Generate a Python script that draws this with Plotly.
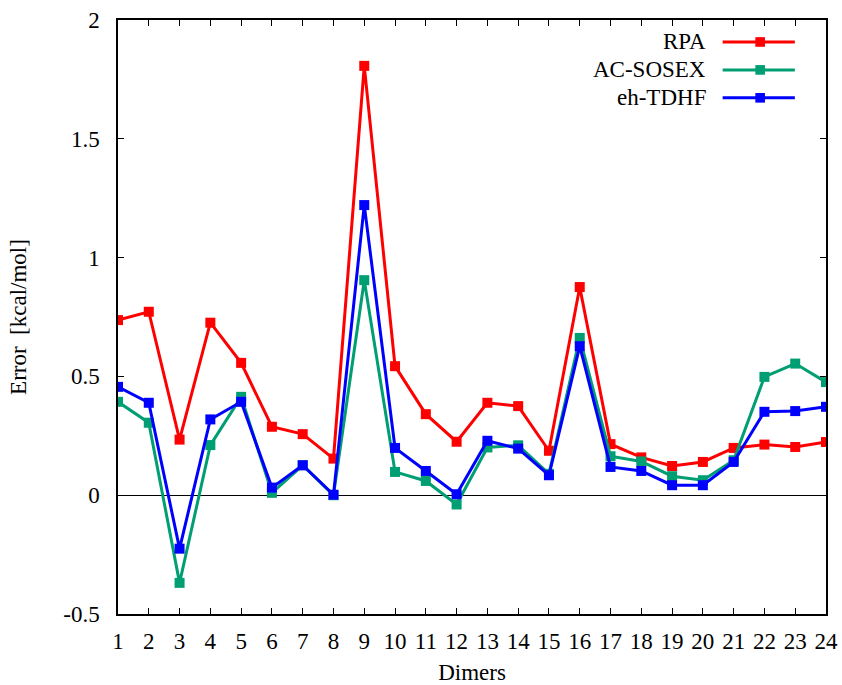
import plotly.graph_objects as go

dimers = list(range(1, 25))

rpa = [0.737, 0.772, 0.234, 0.726, 0.557, 0.288, 0.257, 0.154, 1.807, 0.543,
       0.341, 0.225, 0.389, 0.375, 0.187, 0.876, 0.215, 0.159, 0.123, 0.140,
       0.199, 0.213, 0.203, 0.224]
ac_sosex = [0.393, 0.305, -0.369, 0.211, 0.414, 0.010, 0.126, 0.000, 0.905, 0.098,
            0.060, -0.039, 0.201, 0.210, 0.090, 0.662, 0.164, 0.142, 0.080, 0.063,
            0.147, 0.498, 0.554, 0.476]
eh_tdhf = [0.456, 0.389, -0.225, 0.319, 0.393, 0.032, 0.126, 0.002, 1.221, 0.199,
           0.102, 0.004, 0.229, 0.196, 0.084, 0.627, 0.119, 0.102, 0.042, 0.042,
           0.140, 0.351, 0.354, 0.372]

series = [
    ("RPA", rpa, "#ff0000"),
    ("AC-SOSEX", ac_sosex, "#009e73"),
    ("eh-TDHF", eh_tdhf, "#0000ff"),
]

FONT = "Liberation Serif"
TXT = dict(family=FONT, size=23, color="black")

fig = go.Figure()
for name, vals, color in series:
    fig.add_trace(go.Scatter(
        x=dimers, y=vals, mode="lines+markers", name=name,
        line=dict(color=color, width=3),
        marker=dict(symbol="square", size=10, color=color),
        showlegend=False,
    ))

# key in the upper right corner: right-aligned label, then line sample with marker
key_y = [0.963, 0.916, 0.869]
for (name, vals, color), ky in zip(series, key_y):
    fig.add_annotation(x=0.834, y=ky, xref="paper", yref="paper",
                       text=name, showarrow=False, xanchor="right", yanchor="middle",
                       font=TXT)
    fig.add_shape(type="line", xref="paper", yref="paper",
                  x0=0.854, x1=0.956, y0=ky, y1=ky,
                  line=dict(color=color, width=3))
    fig.add_shape(type="rect", xref="paper", yref="paper",
                  x0=0.907 - 0.0068, x1=0.907 + 0.0068,
                  y0=ky - 0.0081, y1=ky + 0.0081,
                  line=dict(width=0), fillcolor=color)

fig.update_layout(
    width=842, height=685,
    margin=dict(l=118, r=16, t=20, b=71),
    paper_bgcolor="white", plot_bgcolor="white",
    font=TXT,
)
fig.update_xaxes(
    range=[1, 24], tickmode="array", tickvals=dimers,
    ticks="inside", ticklen=6, tickcolor="black",
    showline=True, linecolor="black", linewidth=1.5, mirror="ticks",
    showgrid=False, zeroline=False, ticklabelstandoff=6,
    tickfont=TXT, automargin=False,
    title=dict(text="Dimers", standoff=14, font=TXT),
)
fig.update_yaxes(
    range=[-0.5, 2], tickmode="array",
    tickvals=[-0.5, 0, 0.5, 1, 1.5, 2], ticktext=["-0.5", "0", "0.5", "1", "1.5", "2"],
    ticks="inside", ticklen=6, tickcolor="black",
    showline=True, linecolor="black", linewidth=1.5, mirror="ticks",
    showgrid=False, zeroline=True, zerolinecolor="black", zerolinewidth=1,
    ticklabelstandoff=12, tickfont=TXT, automargin=False,
    title=dict(text="Error\u00a0 [kcal/mol]", standoff=30, font=TXT),
)

fig.write_html("out.html")
